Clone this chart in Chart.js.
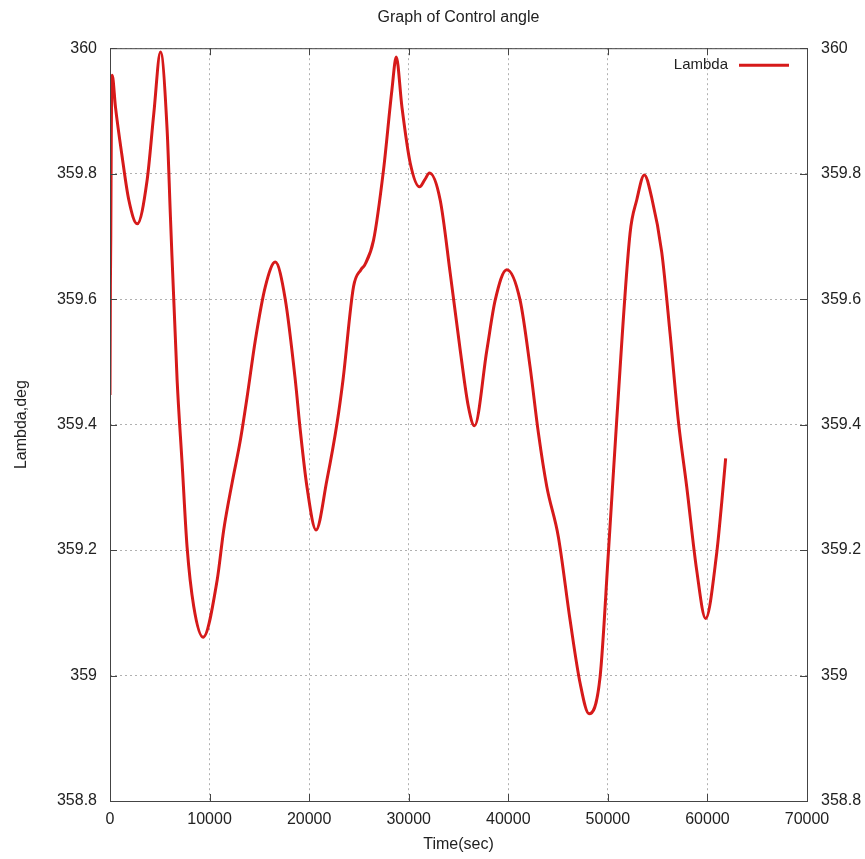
<!DOCTYPE html>
<html>
<head>
<meta charset="utf-8">
<title>Graph of Control angle</title>
<script src="https://cdn.jsdelivr.net/npm/chart.js@4.4.1/dist/chart.umd.min.js"></script>
<style>
  html, body { margin: 0; padding: 0; background: #fff; }
  #wrap { width: 865px; height: 859px; }
</style>
</head>
<body>
<div id="wrap"><canvas id="angleChart"></canvas></div>
<script>
// Data
const timeSec = [
  0, 40, 80, 130, 220, 550, 1220, 1890, 2730, 3730, 4400, 5070,
  5740, 6070, 6740, 7240, 7740, 8410, 9350, 10760, 11420, 12260,
  13090, 13770, 14600, 15600, 16600, 17600, 18610, 19110, 19780, 20690,
  21790, 22800, 23400, 24460, 25200, 25600, 26470, 27470, 28310, 28750,
  29320, 30150, 31090, 31600, 32090, 33160, 34170, 35170, 36000, 36610,
  37850, 38680, 39850, 41190, 42190, 43030, 43870, 45030, 46210, 47210,
  48110, 49220, 50050, 50890, 52230, 52900, 53660, 54400, 55410, 56250,
  57070, 57920, 58920, 59820, 60930, 61430, 61830
];
const lambdaDeg = [
  359.447, 359.62, 359.70, 359.86, 359.957, 359.906, 359.827, 359.758, 359.72, 359.79, 359.896, 359.994,
  359.869, 359.731, 359.471, 359.339, 359.205, 359.110, 359.061, 359.152, 359.232, 359.307,
  359.375, 359.444, 359.535, 359.62, 359.659, 359.60, 359.471, 359.391, 359.301, 359.232,
  359.312, 359.402, 359.471, 359.62, 359.647, 359.655, 359.694, 359.806, 359.933, 359.986,
  359.906, 359.817, 359.779, 359.79, 359.801, 359.758, 359.641, 359.519, 359.428, 359.398,
  359.519, 359.598, 359.647, 359.598, 359.492, 359.386, 359.301, 359.221, 359.088, 358.988,
  358.939, 358.998, 359.195, 359.407, 359.705, 359.758, 359.798, 359.762, 359.675, 359.545,
  359.407, 359.301, 359.168, 359.091, 359.195, 359.275, 359.346
];
const xTicks = [0, 10000, 20000, 30000, 40000, 50000, 60000, 70000];
const yTicks = [358.8, 359, 359.2, 359.4, 359.6, 359.8, 360];

const FONT = 'Liberation Sans, Arial, Helvetica, sans-serif';
const TEXT = '#222';
const LINE_RED = 'rgb(214, 26, 26)';

// frame + inward tick marks, gnuplot style
const framePlugin = {
  id: 'frame',
  afterDatasetsDraw(chart) {
    const { ctx, chartArea: a, scales } = chart;
    ctx.save();
    ctx.strokeStyle = '#444';
    ctx.lineWidth = 1;
    ctx.strokeRect(a.left + 0.5, a.top + 0.5, a.right - a.left, a.bottom - a.top);
    ctx.beginPath();
    xTicks.forEach(v => {
      const px = Math.round(scales.x.getPixelForValue(v)) + 0.5;
      ctx.moveTo(px, a.bottom); ctx.lineTo(px, a.bottom - 7);
      ctx.moveTo(px, a.top); ctx.lineTo(px, a.top + 7);
    });
    yTicks.forEach(v => {
      const py = Math.round(scales.y.getPixelForValue(v)) + 0.5;
      ctx.moveTo(a.left, py); ctx.lineTo(a.left + 7, py);
      ctx.moveTo(a.right, py); ctx.lineTo(a.right - 7, py);
    });
    ctx.stroke();
    ctx.restore();
  }
};

// key in the top right corner of the plot
const keyPlugin = {
  id: 'key',
  afterDatasetsDraw(chart) {
    const { ctx, chartArea: a } = chart;
    const ds = chart.data.datasets[0];
    const y = a.top + 17;
    ctx.save();
    ctx.font = '15px ' + FONT;
    ctx.fillStyle = TEXT;
    ctx.textAlign = 'right';
    ctx.textBaseline = 'middle';
    ctx.fillText(ds.label, a.right - 79, y);
    ctx.strokeStyle = ds.borderColor;
    ctx.lineWidth = 3;
    ctx.beginPath();
    ctx.moveTo(a.right - 68, y);
    ctx.lineTo(a.right - 18, y);
    ctx.stroke();
    ctx.restore();
  }
};

const points = timeSec.map((t, i) => ({ x: t, y: lambdaDeg[i] }));

new Chart(document.getElementById('angleChart'), {
  type: 'line',
  data: {
    datasets: [{
      label: 'Lambda',
      data: points,
      borderColor: LINE_RED,
      borderWidth: 3,
      pointRadius: 0,
      fill: false,
      cubicInterpolationMode: 'monotone'
    }]
  },
  options: {
    responsive: true,
    maintainAspectRatio: false,
    animation: false,
    layout: { padding: 0 },
    plugins: {
      legend: { display: false },
      tooltip: { enabled: false },
      title: {
        display: true,
        fullSize: false,
        text: 'Graph of Control angle',
        color: TEXT,
        font: { family: FONT, size: 16, weight: 'normal' },
        padding: { top: 8, bottom: 21 }
      }
    },
    scales: {
      x: {
        type: 'linear',
        min: 0,
        max: 70000,
        afterBuildTicks: s => { s.ticks = xTicks.map(v => ({ value: v })); },
        afterFit: s => { s.height = 58; },
        ticks: {
          color: TEXT,
          font: { family: FONT, size: 16 },
          padding: 9,
          maxRotation: 0,
          callback: v => String(v)
        },
        grid: { color: '#b0b0b0', drawTicks: false },
        border: { display: false, dash: [2, 3] },
        title: {
          display: true,
          text: 'Time(sec)',
          color: TEXT,
          font: { family: FONT, size: 16 },
          padding: { top: 0, bottom: 5 }
        }
      },
      y: {
        position: 'left',
        min: 358.8,
        max: 360,
        afterBuildTicks: s => { s.ticks = yTicks.map(v => ({ value: v })); },
        afterFit: s => { s.width = 110; },
        ticks: {
          color: TEXT,
          font: { family: FONT, size: 16 },
          padding: 13,
          callback: v => String(+v.toFixed(1))
        },
        grid: { color: '#b0b0b0', drawTicks: false },
        border: { display: false, dash: [2, 3] },
        title: {
          display: true,
          text: 'Lambda,deg',
          color: TEXT,
          font: { family: FONT, size: 16 },
          padding: { top: 12, bottom: 0 }
        }
      },
      y2: {
        position: 'right',
        min: 358.8,
        max: 360,
        afterBuildTicks: s => { s.ticks = yTicks.map(v => ({ value: v })); },
        afterFit: s => { s.width = 58; },
        ticks: {
          color: TEXT,
          font: { family: FONT, size: 16 },
          padding: 14,
          callback: v => String(+v.toFixed(1))
        },
        grid: { display: false, drawTicks: false },
        border: { display: false }
      }
    }
  },
  plugins: [framePlugin, keyPlugin]
});
</script>
</body>
</html>
